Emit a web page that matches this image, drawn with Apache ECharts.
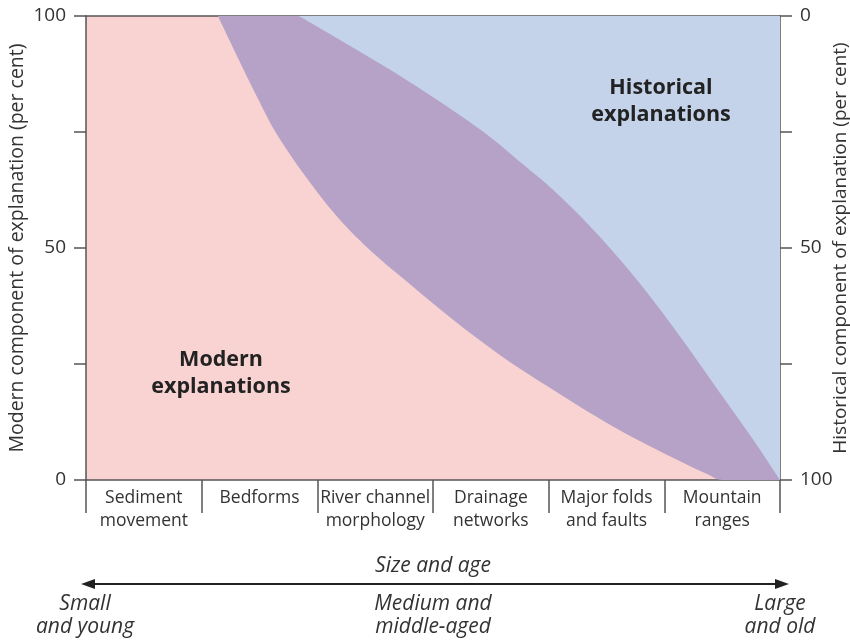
<!DOCTYPE html>
<html>
<head>
<meta charset="utf-8">
<script src="https://cdn.jsdelivr.net/npm/echarts@6/dist/echarts.min.js"></script>
<style>
  html, body { margin: 0; padding: 0; background: #fff; }
  #chart { width: 850px; height: 642px; }
</style>
</head>
<body>
<div id="chart"></div>
<script>
// categories along the bottom (size and age of landform)
var categories = ['Sediment\nmovement', 'Bedforms', 'River channel\nmorphology', 'Drainage\nnetworks', 'Major folds\nand faults', 'Mountain\nranges'];

// boundary of the modern explanations (x in category units 0..6, y in per cent)
var modernX = [1.14, 1.36, 1.50, 1.65, 1.94, 2.22, 2.52, 2.83, 3.12, 3.41, 3.69, 3.99, 4.27, 4.56, 4.85, 5.14, 5.37, 5.5, 6];
var modernY = [100, 88.6, 81.5, 74.5, 64, 55.4, 48.1, 41.6, 35.6, 30.0, 25.0, 20.2, 15.8, 11.5, 7.6, 4.0, 1.3, 0, 0];

// boundary of the historical explanations
var historicalX = [1.84, 2.20, 2.63, 3.06, 3.49, 3.78, 4.04, 4.33, 4.62, 4.90, 5.20, 5.48, 5.77, 6];
var historicalY = [100, 94.8, 88.4, 81.5, 74.0, 68.0, 62.5, 55.4, 47.4, 38.8, 28.7, 18.8, 8.6, 0];

var leftTicks = [0, 50, 100];

var font = 'Open Sans';
var axisColor = '#555';
var textColor = '#333';

function pairs(xs, ys) {
  return xs.map(function (x, i) { return [x, ys[i]]; });
}

var chart = echarts.init(document.getElementById('chart'));

var option = {
  backgroundColor: '#fff',
  textStyle: { fontFamily: font },
  grid: {
    left: 86, right: 70, top: 16, bottom: 162,
    outerBoundsMode: 'none',
    containLabel: false,
    show: true,
    backgroundColor: '#f8d3d2',
    borderWidth: 0
  },
  xAxis: [
    {
      type: 'category',
      data: categories,
      boundaryGap: true,
      position: 'bottom',
      axisLine: { lineStyle: { color: axisColor, width: 1.5 } },
      axisTick: { show: true, interval: 0, length: 33, inside: false, lineStyle: { color: axisColor, width: 1.5 } },
      axisLabel: { interval: 0, color: textColor, fontSize: 17.5, lineHeight: 23, margin: 7 },
      name: 'Size and age',
      nameLocation: 'middle',
      nameGap: 76,
      nameMoveOverlap: false,
      nameTextStyle: { fontSize: 21, fontStyle: 'italic', color: textColor }
    },
    {
      type: 'value',
      min: 0, max: 6,
      position: 'top',
      axisLine: { show: true, onZero: false, lineStyle: { color: axisColor, width: 1.5 } },
      axisTick: { show: false },
      axisLabel: { show: false },
      splitLine: { show: false }
    }
  ],
  yAxis: [
    {
      type: 'value',
      min: 0, max: 100, interval: 25,
      position: 'left',
      axisLine: { show: true, lineStyle: { color: axisColor, width: 1.5 } },
      axisTick: { show: true, length: 12, lineStyle: { color: axisColor, width: 1.5 } },
      axisLabel: {
        color: textColor, fontSize: 19, margin: 20,
        formatter: function (v) { return leftTicks.indexOf(v) >= 0 ? v : ''; }
      },
      splitLine: { show: false },
      name: 'Modern component of explanation (per cent)',
      nameLocation: 'middle',
      nameGap: 59,
      nameRotate: 90,
      nameMoveOverlap: false,
      nameTextStyle: { fontSize: 19.5, color: textColor }
    },
    {
      type: 'value',
      min: 0, max: 100, interval: 25,
      inverse: true,
      position: 'right',
      axisLine: { show: true, lineStyle: { color: axisColor, width: 1.5 } },
      axisTick: { show: true, length: 12, lineStyle: { color: axisColor, width: 1.5 } },
      axisLabel: {
        color: textColor, fontSize: 19, margin: 20,
        formatter: function (v) { return leftTicks.indexOf(v) >= 0 ? v : ''; }
      },
      splitLine: { show: false },
      name: 'Historical component of explanation (per cent)',
      nameLocation: 'middle',
      nameGap: 51,
      nameRotate: 90,
      nameMoveOverlap: false,
      nameTextStyle: { fontSize: 19, color: textColor }
    }
  ],
  series: [
    {
      name: 'Modern boundary',
      type: 'line',
      xAxisIndex: 1,
      yAxisIndex: 0,
      data: pairs(modernX, modernY),
      smooth: 0.35,
      symbol: 'none',
      lineStyle: { width: 0 },
      areaStyle: { origin: 'end', color: '#b5a2c6', opacity: 1 },
      silent: true
    },
    {
      name: 'Historical boundary',
      type: 'line',
      xAxisIndex: 1,
      yAxisIndex: 0,
      data: pairs(historicalX, historicalY),
      smooth: 0.35,
      symbol: 'none',
      lineStyle: { width: 0 },
      areaStyle: { origin: 'end', color: '#c4d3ea', opacity: 1 },
      silent: true
    }
  ],
  graphic: [
    {
      type: 'text', z: 100,
      x: 221, y: 373,
      style: {
        text: 'Modern\nexplanations',
        fill: '#222', font: 'bold 21.5px "' + font + '"',
        textAlign: 'center', textVerticalAlign: 'middle', lineHeight: 27
      }
    },
    {
      type: 'text', z: 100,
      x: 661, y: 101,
      style: {
        text: 'Historical\nexplanations',
        fill: '#222', font: 'bold 21.5px "' + font + '"',
        textAlign: 'center', textVerticalAlign: 'middle', lineHeight: 27
      }
    },
    // size / age arrow
    {
      type: 'line', z: 100,
      shape: { x1: 92, y1: 584, x2: 778, y2: 584 },
      style: { stroke: '#222', lineWidth: 2 }
    },
    {
      type: 'polygon', z: 100,
      shape: { points: [[81, 584], [95, 579], [95, 589]] },
      style: { fill: '#222' }
    },
    {
      type: 'polygon', z: 100,
      shape: { points: [[789, 584], [775, 579], [775, 589]] },
      style: { fill: '#222' }
    },
    {
      type: 'text', z: 100,
      x: 85, y: 616,
      style: {
        text: 'Small\nand young', fill: textColor,
        font: 'italic 21px "' + font + '"',
        textAlign: 'center', textVerticalAlign: 'middle', lineHeight: 23
      }
    },
    {
      type: 'text', z: 100,
      x: 433, y: 616,
      style: {
        text: 'Medium and\nmiddle-aged', fill: textColor,
        font: 'italic 21px "' + font + '"',
        textAlign: 'center', textVerticalAlign: 'middle', lineHeight: 23
      }
    },
    {
      type: 'text', z: 100,
      x: 780, y: 616,
      style: {
        text: 'Large\nand old', fill: textColor,
        font: 'italic 21px "' + font + '"',
        textAlign: 'center', textVerticalAlign: 'middle', lineHeight: 23
      }
    }
  ]
};

chart.setOption(option);
</script>
</body>
</html>
